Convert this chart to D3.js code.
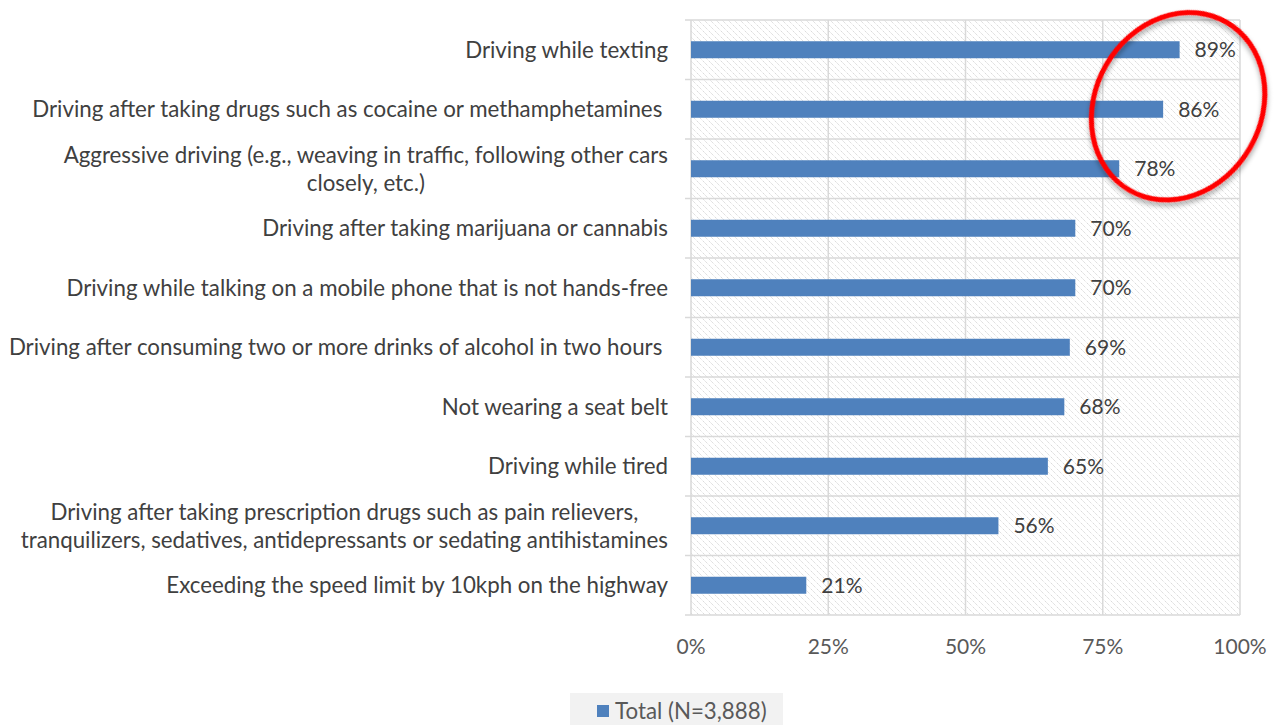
<!DOCTYPE html>
<html>
<head>
<meta charset="utf-8">
<script src="https://cdn.jsdelivr.net/npm/d3@7"></script>
<style>
  html, body { margin: 0; padding: 0; background: #fff; }
  svg { display: block; font-family: Lato, "Open Sans", sans-serif; }
</style>
</head>
<body>
<svg id="chart" width="1275" height="725"></svg>
<script>
// Share of respondents rating each behaviour as dangerous
const categories = [
  ["Driving while texting"],
  ["Driving after taking drugs such as cocaine or methamphetamines\u00a0"],
  ["Aggressive driving (e.g., weaving in traffic, following other cars", "closely, etc.)"],
  ["Driving after taking marijuana or cannabis"],
  ["Driving while talking on a mobile phone that is not hands-free"],
  ["Driving after consuming two or more drinks of alcohol in two hours\u00a0"],
  ["Not wearing a seat belt"],
  ["Driving while tired"],
  ["Driving after taking prescription drugs such as pain relievers,", "tranquilizers, sedatives, antidepressants or sedating antihistamines"],
  ["Exceeding the speed limit by 10kph on the highway"]
];
const values = [89, 86, 78, 70, 70, 69, 68, 65, 56, 21];
const tickValues = [0, 25, 50, 75, 100];
const seriesName = "Total (N=3,888)";

const svg = d3.select("#chart");
const plot = { left: 691, right: 1240, top: 20, bottom: 615 };
const labelSize = 22.3;
const numSize = 21;

const x = d3.scaleLinear().domain([0, 100]).range([plot.left, plot.right]);
const y = d3.scaleBand().domain(d3.range(categories.length))
  .range([plot.top, plot.bottom]).paddingInner(0).paddingOuter(0);

const defs = svg.append("defs");
// light diagonal hatching behind the bars
const pat = defs.append("pattern")
  .attr("id", "hatch").attr("patternUnits", "userSpaceOnUse")
  .attr("width", 6).attr("height", 6);
pat.append("rect").attr("width", 6).attr("height", 6).attr("fill", "#fff");
pat.append("path")
  .attr("d", "M-1,-1 L7,7 M-1,5 L1,7 M5,-1 L7,1")
  .attr("stroke", "#d4d4d4").attr("stroke-width", 1).attr("stroke-dasharray", "1.5,1");

const shadow = defs.append("filter").attr("id", "shadow")
  .attr("x", "-20%").attr("y", "-20%").attr("width", "140%").attr("height", "140%");
shadow.append("feDropShadow").attr("dx", 2).attr("dy", 3).attr("stdDeviation", 2.5)
  .attr("flood-color", "#000").attr("flood-opacity", 0.35);

svg.append("rect")
  .attr("x", plot.left).attr("y", plot.top)
  .attr("width", plot.right - plot.left).attr("height", plot.bottom - plot.top)
  .attr("fill", "url(#hatch)");

const gridColor = "#d9d9d9";
// vertical gridlines from the x ticks
svg.append("g").selectAll("line").data(tickValues).join("line")
  .attr("x1", d => x(d)).attr("x2", d => x(d))
  .attr("y1", plot.top).attr("y2", plot.bottom)
  .attr("stroke", gridColor).attr("stroke-width", 1.5);

// category boundaries with outward ticks on the value axis
const bounds = d3.range(categories.length + 1).map(i => i < categories.length ? y(i) : plot.bottom);
svg.append("g").selectAll("line").data(bounds).join("line")
  .attr("x1", plot.left - 6).attr("x2", plot.right)
  .attr("y1", d => d).attr("y2", d => d)
  .attr("stroke", gridColor).attr("stroke-width", 1.5);

// bars
const barH = 17;
svg.append("g").selectAll("rect").data(values).join("rect")
  .attr("x", x(0)).attr("y", (d, i) => y(i) + y.bandwidth() / 2 - barH / 2)
  .attr("width", d => x(d) - x(0)).attr("height", barH)
  .attr("fill", "#4f81bd");

// value labels
svg.append("g").selectAll("text").data(values).join("text")
  .attr("x", d => x(d) + 15).attr("y", (d, i) => y(i) + y.bandwidth() / 2)
  .attr("dy", "0.35em").attr("font-size", numSize).attr("fill", "#404040")
  .text(d => d + "%");

// category labels, multi-line ones centred within their block
const labelRight = 668;
const lineH = 28;
const catG = svg.append("g");
categories.forEach((lines, i) => {
  const cy = y(i) + y.bandwidth() / 2;
  const t = catG.append("text").attr("font-size", labelSize).attr("fill", "#404040")
    .style("white-space", "pre");
  lines.forEach((ln, k) => {
    t.append("tspan").attr("y", cy + (k - (lines.length - 1) / 2) * lineH)
      .attr("dy", "0.35em").text(ln);
  });
  const tspans = t.selectAll("tspan").nodes();
  const widths = tspans.map(n => n.getComputedTextLength());
  const wmax = d3.max(widths);
  const center = labelRight - wmax / 2;
  tspans.forEach(n => d3.select(n).attr("x", center).attr("text-anchor", "middle"));
});

// x axis tick labels
svg.append("g").selectAll("text").data(tickValues).join("text")
  .attr("x", d => x(d)).attr("y", 647).attr("dy", "0.35em")
  .attr("text-anchor", "middle").attr("font-size", numSize).attr("fill", "#595959")
  .text(d => d + "%");

// legend
const lg = svg.append("g");
lg.append("rect").attr("x", 570).attr("y", 693).attr("width", 213).attr("height", 40).attr("fill", "#f2f2f2");
lg.append("rect").attr("x", 597).attr("y", 705).attr("width", 12).attr("height", 12).attr("fill", "#4f81bd");
lg.append("text").attr("x", 615).attr("y", 711).attr("dy", "0.35em")
  .attr("font-size", labelSize).attr("fill", "#595959").text(seriesName);

// red highlight ring around the top three results
const ringCx = x(values[0]) - 1.5;
const ringCy = y(1) + y.bandwidth() / 2 - 3;
svg.append("ellipse")
  .attr("cx", ringCx).attr("cy", ringCy).attr("rx", 83).attr("ry", 97)
  .attr("transform", `rotate(30, ${ringCx}, ${ringCy})`)
  .attr("fill", "none").attr("stroke", "#ff0000").attr("stroke-width", 5)
  .attr("filter", "url(#shadow)");
</script>
</body>
</html>
